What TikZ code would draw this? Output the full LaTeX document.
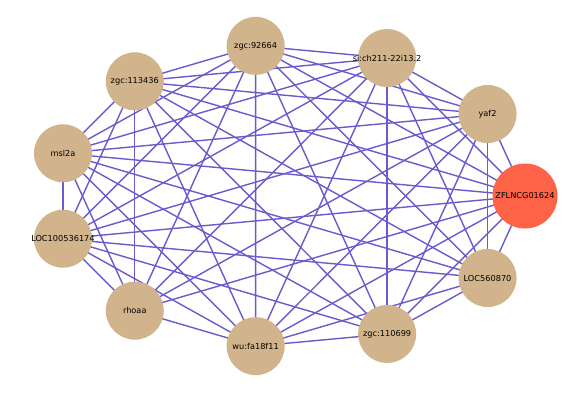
\documentclass[tikz,border=0pt]{standalone}
\usepackage{fontspec}
\setmainfont{DejaVu Sans}
\usetikzlibrary{backgrounds}
\definecolor{tanc}{RGB}{210,180,140}
\definecolor{tomatoc}{RGB}{255,99,71}
\definecolor{slatec}{RGB}{106,90,205}
\newcommand{\lbl}[1]{\makebox[0pt][c]{#1}}
\begin{document}
\begin{tikzpicture}[x=1pt,y=-1pt,
  gene/.style={circle,fill=tanc,minimum size=58pt,inner sep=0pt,font=\fontsize{8.2}{9}\selectfont},
  hub/.style={gene,fill=tomatoc,minimum size=65pt},
  link/.style={draw=slatec,line width=1.4pt}]
\useasboundingbox (0,0) rectangle (588,393);
\def\cx{289.2}\def\cy{196}\def\rx{235.8}\def\ry{151.7}
\node[hub]  (n0)  at ({\cx+\rx*cos(0*360/11)},{\cy-\ry*sin(0*360/11)}) {\lbl{ZFLNCG01624}};
\node[gene] (n1)  at ({\cx+\rx*cos(1*360/11)},{\cy-\ry*sin(1*360/11)}) {\lbl{yaf2}};
\node[gene] (n2)  at ({\cx+\rx*cos(2*360/11)},{\cy-\ry*sin(2*360/11)}) {\lbl{si:ch211-22i13.2}};
\node[gene] (n3)  at ({\cx+\rx*cos(3*360/11)},{\cy-\ry*sin(3*360/11)}) {\lbl{zgc:92664}};
\node[gene] (n4)  at ({\cx+\rx*cos(4*360/11)},{\cy-\ry*sin(4*360/11)}) {\lbl{zgc:113436}};
\node[gene] (n5)  at ({\cx+\rx*cos(5*360/11)},{\cy-\ry*sin(5*360/11)}) {\lbl{msl2a}};
\node[gene] (n6)  at ({\cx+\rx*cos(6*360/11)},{\cy-\ry*sin(6*360/11)}) {\lbl{LOC100536174}};
\node[gene] (n7)  at ({\cx+\rx*cos(7*360/11)},{\cy-\ry*sin(7*360/11)}) {\lbl{rhoaa}};
\node[gene] (n8)  at ({\cx+\rx*cos(8*360/11)},{\cy-\ry*sin(8*360/11)}) {\lbl{wu:fa18f11}};
\node[gene] (n9)  at ({\cx+\rx*cos(9*360/11)},{\cy-\ry*sin(9*360/11)}) {\lbl{zgc:110699}};
\node[gene] (n10) at ({\cx+\rx*cos(10*360/11)},{\cy-\ry*sin(10*360/11)}) {\lbl{LOC560870}};
\begin{pgfonlayer}{background}
\foreach \i in {0,...,9}{
  \pgfmathtruncatemacro\s{\i+1}
  \foreach \j in {\s,...,10}{
    \pgfmathtruncatemacro\skipme{(\i==7 && \j==9) || (\i==7 && \j==10)}
    \ifnum\skipme=0
      \draw[link] (n\i.center) -- (n\j.center);
    \fi
  }
}
\end{pgfonlayer}
\end{tikzpicture}
\end{document}
